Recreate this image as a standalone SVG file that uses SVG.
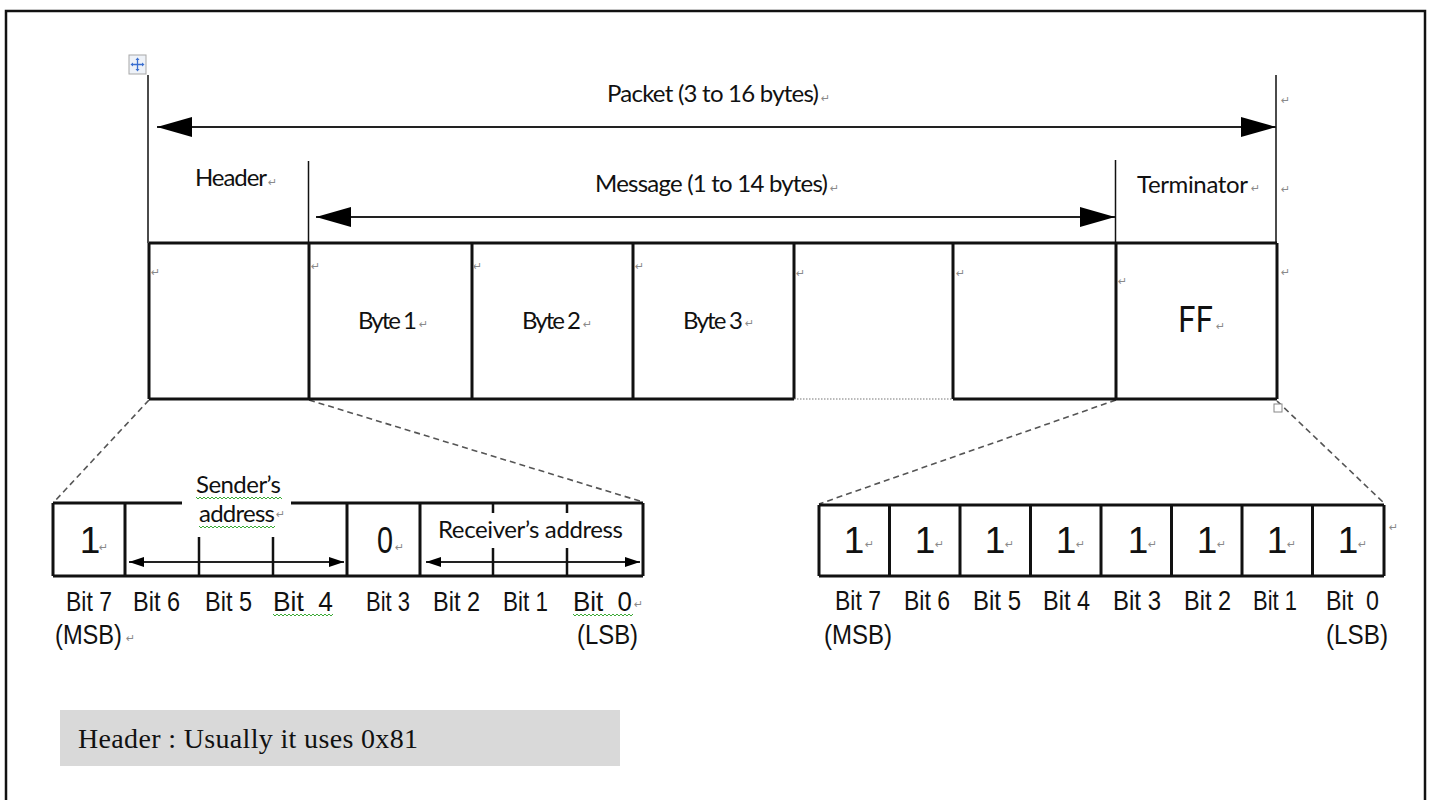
<svg xmlns="http://www.w3.org/2000/svg" width="1431" height="800" viewBox="0 0 1431 800">
<style>
.cal{font-family:Lato,"Open Sans","Liberation Sans",sans-serif;fill:#111}
.ar{font-family:"Liberation Sans",Arial,sans-serif;fill:#111}
.rm{font-family:"DejaVu Sans",sans-serif;font-size:11px;fill:#8a8a8a}
.thin{stroke:#111;stroke-width:1.5;fill:none}
.arl{stroke:#222;stroke-width:2;fill:none}
.thick{stroke:#111;stroke-width:3;fill:none}
.tick{stroke:#111;stroke-width:2.5;fill:none}
.dash{stroke:#555;stroke-width:1.6;stroke-dasharray:6 4;fill:none}
.wavy{stroke:#3aaa35;stroke-width:1;fill:none}
.bit{font-size:28px}
.dig{font-size:37px}
</style>
<defs>
<marker id="bigR" markerWidth="35" markerHeight="20" refX="35" refY="10" orient="auto" markerUnits="userSpaceOnUse"><path d="M0,0 L35,10 L0,20 Z" fill="#000"/></marker>
<marker id="bigL" markerWidth="35" markerHeight="20" refX="0" refY="10" orient="auto" markerUnits="userSpaceOnUse"><path d="M35,0 L0,10 L35,20 Z" fill="#000"/></marker>
<marker id="smR" markerWidth="15" markerHeight="10" refX="15" refY="5" orient="auto" markerUnits="userSpaceOnUse"><path d="M0,0 L15,5 L0,10 Z" fill="#000"/></marker>
<marker id="smL" markerWidth="15" markerHeight="10" refX="0" refY="5" orient="auto" markerUnits="userSpaceOnUse"><path d="M15,0 L0,5 L15,10 Z" fill="#000"/></marker>
</defs>
<rect width="1431" height="800" fill="#fff"/>
<rect id="frame" x="6" y="11" width="1419" height="800" fill="none" stroke="#111" stroke-width="2.5"/>

<g id="move-handle">
<rect x="129" y="55" width="17" height="19" fill="#eef2f8" stroke="#a8a8a8" stroke-width="1"/>
<path d="M137.5,59 V70 M132,64.5 H143" stroke="#3b6fd0" stroke-width="1.3"/>
<path d="M137.5,57.5 L135.5,60 H139.5 Z M137.5,71.5 L135.5,69 H139.5 Z M130.5,64.5 L133,62.5 V66.5 Z M144.5,64.5 L142,62.5 V66.5 Z" fill="#3b6fd0"/>
</g>

<g id="connectors">
<path class="thin" d="M148,75 V243 M1276,75 V243 M308.5,161 V243 M1115.5,160 V243"/>
<line class="arl" x1="157" y1="127" x2="1276" y2="127" marker-start="url(#bigL)" marker-end="url(#bigR)"/>
<line class="arl" x1="316" y1="217" x2="1115" y2="217" marker-start="url(#bigL)" marker-end="url(#bigR)"/>
<path class="dash" d="M149,400 L54,502 M309,400 L643,502 M1116,400 L819,504 M1277,401 L1385,504"/>
<line class="arl" x1="129" y1="562" x2="344" y2="562" marker-start="url(#smL)" marker-end="url(#smR)"/>
<line class="arl" x1="426" y1="562" x2="640" y2="562" marker-start="url(#smL)" marker-end="url(#smR)"/>
</g>

<g id="packet-label">
<text class="cal" x="607" y="102" font-size="24" textLength="212">Packet (3 to 16 bytes)</text>
<text class="rm" x="821" y="102">↵</text>
<text class="rm" x="1281" y="104">↵</text>
</g>
<g id="header-label">
<text class="cal" x="195" y="186" font-size="24" textLength="72">Header</text>
<text class="rm" x="268" y="186">↵</text>
</g>
<g id="message-label">
<text class="cal" x="595" y="192" font-size="24" textLength="233">Message (1 to 14 bytes)</text>
<text class="rm" x="830" y="192">↵</text>
</g>
<g id="terminator-label">
<text class="cal" x="1137" y="193" font-size="24" textLength="111">Terminator</text>
<text class="rm" x="1251" y="192">↵</text>
<text class="rm" x="1281" y="193">↵</text>
</g>

<g id="packet-cells">
<path class="thick" d="M149,243 H1277 M149,399 H794 M953,399 H1277 M149,243 V399 M309,243 V399 M472,243 V399 M633,243 V399 M794,243 V399 M953,243 V399 M1116,243 V399 M1277,243 V399"/>
<line x1="794" y1="399" x2="953" y2="399" stroke="#777" stroke-width="1.2" stroke-dasharray="1.5 1.5"/>
<text class="rm" x="1281" y="276">↵</text>
</g>
<g id="cell-header"><text class="rm" x="151" y="276">↵</text></g>
<g id="cell-byte1">
<text class="rm" x="311" y="270">↵</text>
<text class="cal" x="358" y="329" font-size="24" textLength="59">Byte 1</text>
<text class="rm" x="419" y="328">↵</text>
</g>
<g id="cell-byte2">
<text class="rm" x="473" y="270">↵</text>
<text class="cal" x="522" y="329" font-size="24" textLength="59">Byte 2</text>
<text class="rm" x="583" y="328">↵</text>
</g>
<g id="cell-byte3">
<text class="rm" x="635" y="270">↵</text>
<text class="cal" x="683" y="329" font-size="24" textLength="60">Byte 3</text>
<text class="rm" x="745" y="327">↵</text>
</g>
<g id="cell-empty1"><text class="rm" x="796" y="277">↵</text></g>
<g id="cell-empty2"><text class="rm" x="956" y="277">↵</text></g>
<g id="cell-terminator">
<text class="rm" x="1118" y="285">↵</text>
<text class="cal" x="1178" y="332" font-size="36" textLength="35" lengthAdjust="spacingAndGlyphs">FF</text>
<text class="rm" x="1216" y="330">↵</text>
<rect x="1274" y="404" width="8" height="8" fill="#fff" stroke="#888" stroke-width="1"/>
</g>

<g id="header-bits">
<path class="thick" d="M53,503 H182 M291,503 H643 M53,576 H643 M53,503 V576 M125,503 V576 M347,503 V576 M420,503 V576 M643,503 V576"/>
<path class="tick" d="M199,537 V576 M273,537 V576 M493,503 V513 M567,503 V513 M493,548 V576 M567,548 V576"/>
<text class="cal" x="196" y="493" font-size="24" textLength="85">Sender’s</text>
<text class="cal" x="199" y="522" font-size="24" textLength="76">address</text>
<text class="rm" x="276" y="518" font-size="8">↵</text>
<path class="wavy" d="M196,497 l2,2 l2,-2 l2,2 l2,-2 l2,2 l2,-2 l2,2 l2,-2 l2,2 l2,-2 l2,2 l2,-2 l2,2 l2,-2 l2,2 l2,-2 l2,2 l2,-2 l2,2 l2,-2 l2,2 l2,-2 l2,2 l2,-2 l2,2 l2,-2 l2,2 l2,-2 l2,2 l2,-2 l2,2 l2,-2 l2,2 l2,-2 l2,2 l2,-2 l2,2 l2,-2 l2,2 l2,-2 l2,2 l2,-2 l2,2"/>
<path class="wavy" d="M199,526 l2,2 l2,-2 l2,2 l2,-2 l2,2 l2,-2 l2,2 l2,-2 l2,2 l2,-2 l2,2 l2,-2 l2,2 l2,-2 l2,2 l2,-2 l2,2 l2,-2 l2,2 l2,-2 l2,2 l2,-2 l2,2 l2,-2 l2,2 l2,-2 l2,2 l2,-2 l2,2 l2,-2 l2,2 l2,-2 l2,2 l2,-2 l2,2 l2,-2 l2,2 l2,-2"/>
<text class="ar dig" x="90" y="553" text-anchor="middle">1</text>
<text class="rm" x="99" y="551">↵</text>
<text class="ar dig" x="385" y="553" text-anchor="middle" textLength="16" lengthAdjust="spacingAndGlyphs">0</text>
<text class="rm" x="395" y="551">↵</text>
<text class="cal" x="438" y="538" font-size="24" textLength="185">Receiver’s address</text>
<g class="ar bit">
<text x="66" y="611" textLength="46" lengthAdjust="spacingAndGlyphs">Bit 7</text>
<text x="133" y="611" textLength="47" lengthAdjust="spacingAndGlyphs">Bit 6</text>
<text x="205" y="611" textLength="47" lengthAdjust="spacingAndGlyphs">Bit 5</text>
<text x="273" y="611" textLength="60" lengthAdjust="spacingAndGlyphs" xml:space="preserve">Bit  4</text>
<text x="366" y="611" textLength="44" lengthAdjust="spacingAndGlyphs">Bit 3</text>
<text x="433" y="611" textLength="47" lengthAdjust="spacingAndGlyphs">Bit 2</text>
<text x="503" y="611" textLength="45" lengthAdjust="spacingAndGlyphs">Bit 1</text>
<text x="573" y="611" textLength="59" lengthAdjust="spacingAndGlyphs" xml:space="preserve">Bit  0</text>
<text x="55" y="644" textLength="67" lengthAdjust="spacingAndGlyphs">(MSB)</text>
<text x="577" y="644" textLength="61" lengthAdjust="spacingAndGlyphs">(LSB)</text>
</g>
<text class="rm" x="634" y="608" font-size="8">↵</text>
<text class="rm" x="126" y="642">↵</text>
<path class="wavy" d="M273,614 l2,2 l2,-2 l2,2 l2,-2 l2,2 l2,-2 l2,2 l2,-2 l2,2 l2,-2 l2,2 l2,-2 l2,2 l2,-2 l2,2 l2,-2 l2,2 l2,-2 l2,2 l2,-2 l2,2 l2,-2 l2,2 l2,-2 l2,2 l2,-2 l2,2 l2,-2 l2,2 l2,-2"/>
<path class="wavy" d="M573,614 l2,2 l2,-2 l2,2 l2,-2 l2,2 l2,-2 l2,2 l2,-2 l2,2 l2,-2 l2,2 l2,-2 l2,2 l2,-2 l2,2 l2,-2 l2,2 l2,-2 l2,2 l2,-2 l2,2 l2,-2 l2,2 l2,-2 l2,2 l2,-2 l2,2 l2,-2 l2,2 l2,-2"/>
</g>

<g id="terminator-bits">
<path class="thick" d="M819,505 H1384 M819,576 H1384 M819,505 V576 M889.5,505 V576 M960,505 V576 M1030.5,505 V576 M1101,505 V576 M1171.5,505 V576 M1242,505 V576 M1312.5,505 V576 M1384,505 V576"/>
<g class="ar dig" text-anchor="middle">
<text x="854" y="553">1</text>
<text x="925" y="553">1</text>
<text x="995" y="553">1</text>
<text x="1066" y="553">1</text>
<text x="1138" y="553">1</text>
<text x="1207" y="553">1</text>
<text x="1277" y="553">1</text>
<text x="1348" y="553">1</text>
</g>
<text class="rm" x="865" y="548">↵</text>
<text class="rm" x="935" y="548">↵</text>
<text class="rm" x="1005" y="548">↵</text>
<text class="rm" x="1076" y="548">↵</text>
<text class="rm" x="1148" y="548">↵</text>
<text class="rm" x="1217" y="548">↵</text>
<text class="rm" x="1287" y="548">↵</text>
<text class="rm" x="1358" y="548">↵</text>
<text class="rm" x="1389" y="531">↵</text>
<g class="ar bit">
<text x="835" y="610" textLength="46" lengthAdjust="spacingAndGlyphs">Bit 7</text>
<text x="904" y="610" textLength="46" lengthAdjust="spacingAndGlyphs">Bit 6</text>
<text x="973" y="610" textLength="48" lengthAdjust="spacingAndGlyphs">Bit 5</text>
<text x="1043" y="610" textLength="47" lengthAdjust="spacingAndGlyphs">Bit 4</text>
<text x="1113" y="610" textLength="48" lengthAdjust="spacingAndGlyphs">Bit 3</text>
<text x="1184" y="610" textLength="47" lengthAdjust="spacingAndGlyphs">Bit 2</text>
<text x="1253" y="610" textLength="44" lengthAdjust="spacingAndGlyphs">Bit 1</text>
<text x="1326" y="610" textLength="53" lengthAdjust="spacingAndGlyphs" xml:space="preserve">Bit  0</text>
<text x="824" y="644" textLength="68" lengthAdjust="spacingAndGlyphs">(MSB)</text>
<text x="1326" y="644" textLength="62" lengthAdjust="spacingAndGlyphs">(LSB)</text>
</g>
</g>

<g id="note">
<rect x="60" y="710" width="560" height="56" fill="#d9d9d9"/>
<text x="78" y="748" font-family="'Liberation Serif','Times New Roman',serif" font-size="28" fill="#111" textLength="340">Header : Usually it uses 0x81</text>
</g>
</svg>
